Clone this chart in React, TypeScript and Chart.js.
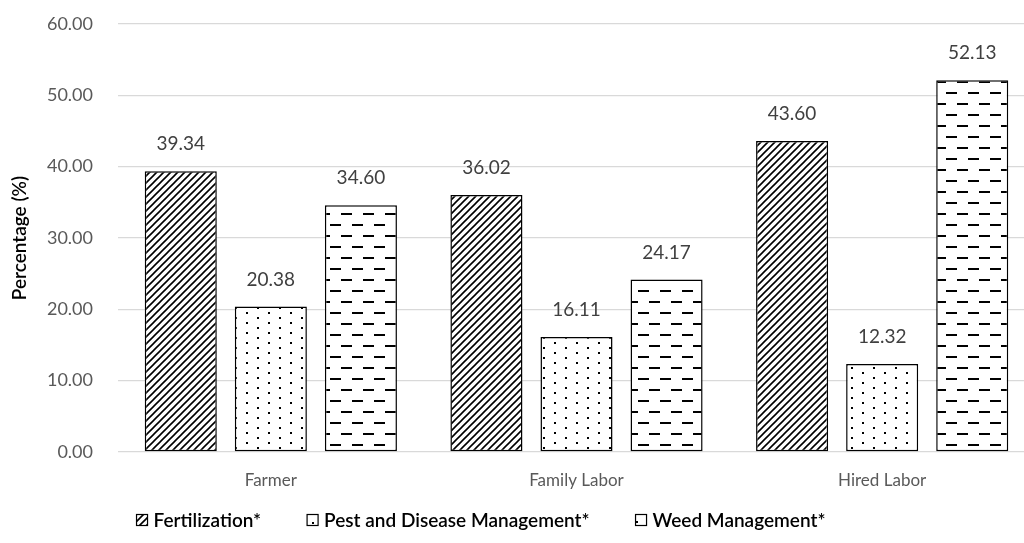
import React, { useEffect, useRef } from "react";
import { Chart, registerables } from "chart.js";

Chart.register(...registerables);

const categories = ["Farmer", "Family Labor", "Hired Labor"];
const seriesNames = ["Fertilization*", "Pest and Disease Management*", "Weed Management*"];
const fertilization = [39.34, 36.02, 43.6];
const pestDisease = [20.38, 16.11, 12.32];
const weedManagement = [34.6, 24.17, 52.13];
const yTicks = [0, 10, 20, 30, 40, 50, 60];

const FONT = "Lato, 'Open Sans', sans-serif";

function makePattern(kind: string): CanvasPattern | string {
  const c = document.createElement("canvas");
  const ctx = c.getContext("2d");
  if (!ctx) return "#fff";
  if (kind === "diag") {
    c.width = 7; c.height = 7;
    ctx.fillStyle = "#fff"; ctx.fillRect(0, 0, 7, 7);
    ctx.strokeStyle = "#000"; ctx.lineWidth = 1.6;
    ctx.beginPath();
    ctx.moveTo(-1, 8); ctx.lineTo(8, -1);
    ctx.moveTo(-2, 2); ctx.lineTo(2, -2);
    ctx.moveTo(5, 9); ctx.lineTo(9, 5);
    ctx.stroke();
  } else if (kind === "dots") {
    c.width = 22; c.height = 10;
    ctx.fillStyle = "#fff"; ctx.fillRect(0, 0, 22, 10);
    ctx.fillStyle = "#000";
    ctx.fillRect(4, 2, 2, 2);
    ctx.fillRect(15, 7, 2, 2);
  } else {
    c.width = 22; c.height = 22;
    ctx.fillStyle = "#fff"; ctx.fillRect(0, 0, 22, 22);
    ctx.fillStyle = "#000";
    ctx.fillRect(0, 4, 11, 2);
    ctx.fillRect(11, 15, 11, 2);
  }
  const p = ctx.createPattern(c, "repeat");
  return p || "#fff";
}

const valueLabels = {
  id: "valueLabels",
  afterDatasetsDraw(chart: any) {
    const ctx = chart.ctx;
    ctx.save();
    ctx.font = `19px ${FONT}`;
    ctx.fillStyle = "#404040";
    ctx.textAlign = "center";
    ctx.textBaseline = "middle";
    chart.data.datasets.forEach((ds: any, i: number) => {
      const meta = chart.getDatasetMeta(i);
      meta.data.forEach((bar: any, j: number) => {
        ctx.fillText(Number(ds.data[j]).toFixed(2), bar.x, bar.y - 27);
      });
    });
    ctx.restore();
  },
};

const customLegend = {
  id: "customLegend",
  afterDraw(chart: any) {
    const ctx = chart.ctx;
    ctx.save();
    ctx.font = `600 19px ${FONT}`;
    const box = 11;
    const textGap = 6;
    const itemGap = 46;
    const widths = chart.data.datasets.map((ds: any) => box + textGap + ctx.measureText(ds.label).width);
    const total = widths.reduce((a: number, b: number) => a + b, 0) + itemGap * (widths.length - 1);
    let x = 481 - total / 2;
    const cy = 520;
    chart.data.datasets.forEach((ds: any, i: number) => {
      ctx.fillStyle = ds.backgroundColor;
      ctx.fillRect(x, cy - box / 2, box, box);
      ctx.strokeStyle = "#000";
      ctx.lineWidth = 1.2;
      ctx.strokeRect(x, cy - box / 2, box, box);
      ctx.fillStyle = "#000";
      ctx.textAlign = "left";
      ctx.textBaseline = "middle";
      ctx.fillText(ds.label, x + box + textGap, cy + 1);
      x += widths[i] + itemGap;
    });
    ctx.restore();
  },
};

export default function App() {
  const ref = useRef<HTMLCanvasElement | null>(null);
  useEffect(() => {
    if (!ref.current) return;
    const pats = [makePattern("diag"), makePattern("dots"), makePattern("dash")];
    const seriesData = [fertilization, pestDisease, weedManagement];
    const chart = new Chart(ref.current, {
      type: "bar",
      data: {
        labels: categories,
        datasets: seriesNames.map((name, i) => ({
          label: name,
          data: seriesData[i],
          backgroundColor: pats[i] as any,
          borderColor: "#000",
          borderWidth: 1.5,
          borderSkipped: false,
          categoryPercentage: 0.884,
          barPercentage: 0.8,
        })),
      },
      options: {
        animation: false,
        responsive: true,
        maintainAspectRatio: false,
        layout: { padding: { top: 24, right: 5, left: 8, bottom: 31 } },
        plugins: {
          tooltip: { enabled: false },
          legend: { display: false },
        },
        scales: {
          x: {
            grid: { display: false, drawTicks: false },
            border: { display: false },
            ticks: { font: { family: FONT, size: 17 }, color: "#595959", padding: 18 },
            afterFit: (axis: any) => {
              axis.height = 60;
              axis.paddingLeft = 0;
              axis.paddingRight = 0;
            },
          },
          y: {
            min: 0,
            max: 60,
            afterBuildTicks: (axis: any) => {
              axis.ticks = yTicks.map((v) => ({ value: v }));
            },
            afterFit: (axis: any) => {
              axis.width = 110;
              axis.paddingTop = 0;
              axis.paddingBottom = 0;
            },
            grid: { color: "#d9d9d9", lineWidth: 1.3, drawTicks: false },
            border: { display: false },
            ticks: {
              font: { family: FONT, size: 18 },
              color: "#595959",
              padding: 25,
              callback: (v: any) => Number(v).toFixed(2),
            },
            title: {
              display: true,
              text: "Percentage (%)",
              font: { family: FONT, size: 19, weight: "600" as any },
              color: "#000",
              padding: { top: 0, bottom: 0 },
            },
          },
        },
      },
      plugins: [valueLabels, customLegend],
    });
    return () => chart.destroy();
  }, []);
  return (
    <div style={{ position: "fixed", left: 0, top: 0, width: 1040, height: 543, background: "#fff", overflow: "hidden" }}>
      <canvas ref={ref} />
    </div>
  );
}
